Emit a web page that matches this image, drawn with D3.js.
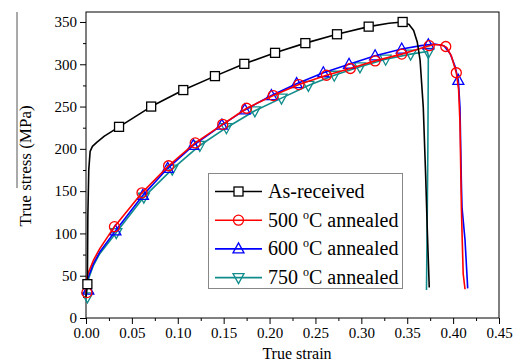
<!DOCTYPE html>
<html>
<head>
<meta charset="utf-8">
<script src="https://cdn.jsdelivr.net/npm/d3@7"></script>
<style>
  body { margin: 0; background: #fff; }
  svg text { font-family: "Liberation Serif", "Times New Roman", Times, "DejaVu Serif", serif !important; }
</style>
</head>
<body>
<svg id="chart" width="522" height="363"></svg>
<script>
// curves, [strain, stress]
const asReceived = [[0,25],[0.0015,40],[0.002,120],[0.003,175],[0.0045,197],[0.007,203],[0.012,208],[0.02,215],[0.036,226],
  [0.071,250],[0.106,269.5],[0.1405,286],[0.1725,300.5],[0.206,313.5],[0.239,325],[0.2735,335.5],[0.308,344.5],
  [0.330,348.5],[0.345,350],[0.352,347],[0.357,340],[0.361,326],[0.364,305],[0.3675,249],[0.370,171],[0.372,100],[0.374,36]]
const annealed500 = [[0,28],[0.0005,45],[0.002,52],[0.008,68],[0.015,82],[0.031,108],[0.061,148],[0.09,180],[0.119,207],
  [0.149,229],[0.175,248],[0.204,263],[0.232,276],[0.262,287],[0.288,295],[0.315,304],[0.344,312],[0.365,319],
  [0.378,323],[0.387,323],[0.393,320],[0.398,310],[0.4035,290],[0.406,270],[0.4075,230],[0.409,131],[0.410,90],
  [0.411,52],[0.413,34]]
const annealed600 = [[0,30],[0.001,45],[0.003,50],[0.008,64],[0.015,78],[0.032,103],[0.062,145],[0.089,177],[0.117,204],
  [0.148,228],[0.173,246],[0.202,263],[0.2295,277],[0.2586,290],[0.2866,300],[0.315,310],[0.344,318],[0.365,322],
  [0.38,324],[0.39,322],[0.397,312],[0.402,298],[0.4057,281],[0.4075,249],[0.409,160],[0.4097,131],[0.413,92],[0.4159,35]]
const annealed750 = [[0,22],[0.001,40],[0.003,47],[0.008,62],[0.015,76],[0.033,101],[0.063,143],[0.094,176],[0.124,204],
  [0.153,225],[0.184,245],[0.213,260],[0.2423,275],[0.2705,287],[0.2985,297],[0.3265,306],[0.3537,312],[0.372,315],
  [0.373,310],[0.3725,200],[0.371,33]]

// marker positions
const asReceivedMarks = [[0.0015,40],[0.036,226],[0.071,250],[0.106,269.5],[0.1405,286],[0.1725,300.5],[0.206,313.5],
  [0.239,325],[0.2735,335.5],[0.308,344.5],[0.345,350]]
const marks500 = [[0.001,30],[0.031,108],[0.061,148],[0.09,180],[0.119,207],[0.149,229],[0.175,248],[0.204,263],[0.232,276],
  [0.262,287],[0.288,295],[0.315,304],[0.344,312],[0.374,322],[0.392,321],[0.4035,290]]
const marks600 = [[0.0025,33],[0.032,103],[0.062,145],[0.089,177],[0.117,204],[0.148,228],[0.173,246],[0.202,263],
  [0.2295,277],[0.2586,290],[0.2866,300],[0.315,310],[0.344,318],[0.373,323],[0.4057,281]]
const marks750 = [[0.0015,25],[0.033,101],[0.063,143],[0.094,176],[0.124,204],[0.153,225],[0.184,245],[0.213,260],
  [0.2423,275],[0.2705,287],[0.2985,297],[0.3265,306],[0.3537,312],[0.373,314]]

const seriesNames = ['As-received', '500', '600', '750']
const xTicks = [0, 0.05, 0.1, 0.15, 0.2, 0.25, 0.3, 0.35, 0.4, 0.45]
const yTicks = [0, 50, 100, 150, 200, 250, 300, 350]

const series = [
  {name: seriesNames[0], line: asReceived, marks: asReceivedMarks, color: '#000000', symbol: 'square'},
  {name: seriesNames[1], line: annealed500, marks: marks500, color: '#ff0000', symbol: 'circle'},
  {name: seriesNames[2], line: annealed600, marks: marks600, color: '#0000ff', symbol: 'up'},
  {name: seriesNames[3], line: annealed750, marks: marks750, color: '#108c8c', symbol: 'down'},
]

const margin = {left: 86, right: 23, top: 12, bottom: 45}
const width = 522, height = 363
const svg = d3.select('#chart')

const x = d3.scaleLinear().domain([0, 0.45]).range([margin.left, width - margin.right])
const y = d3.scaleLinear().domain([0, 361.8]).range([height - margin.bottom, margin.top])

// stray scan line at far left
svg.append('line').attr('x1', 17).attr('x2', 17).attr('y1', 12).attr('y2', 188)
  .attr('stroke', '#555').attr('stroke-width', 1)

// frame
svg.append('rect')
  .attr('x', x(0)).attr('y', y.range()[1])
  .attr('width', x(0.45) - x(0)).attr('height', y(0) - y.range()[1])
  .attr('fill', 'none').attr('stroke', '#000').attr('stroke-width', 1)

// axes
const xAxis = d3.axisBottom(x).tickValues(xTicks).tickFormat(d3.format('.2f')).tickSize(6).tickPadding(3)
const xMinor = d3.axisBottom(x).tickValues(xTicks.slice(0, -1).map((d) => d + 0.025)).tickFormat('').tickSize(3)
const yAxis = d3.axisLeft(y).tickValues(yTicks).tickSize(6).tickPadding(3)
const yMinor = d3.axisLeft(y).tickValues(yTicks.map((d) => d + 25).filter((d) => d < 361)).tickFormat('').tickSize(3)

const gx = svg.append('g').attr('transform', `translate(0,${y(0)})`).call(xAxis)
svg.append('g').attr('transform', `translate(0,${y(0)})`).call(xMinor)
const gy = svg.append('g').attr('transform', `translate(${x(0)},0)`).call(yAxis)
svg.append('g').attr('transform', `translate(${x(0)},0)`).call(yMinor)

svg.selectAll('.domain').remove()
svg.selectAll('.tick line').attr('stroke', '#000')
gx.selectAll('text').attr('font-size', 15).attr('fill', '#000')
gy.selectAll('text').attr('font-size', 15).attr('fill', '#000')

svg.append('text').attr('x', 297).attr('y', 359)
  .attr('text-anchor', 'middle').attr('font-size', 16).text('True strain')
svg.append('text').attr('transform', `translate(31,166) rotate(-90)`)
  .attr('text-anchor', 'middle').attr('font-size', 17).text('True stress (MPa)')

const line = d3.line().x((d) => x(d[0])).y((d) => y(d[1]))

const drawMarker = (g, symbol, color, cx, cy) => {
  if(symbol === 'square') {
    g.append('rect').attr('x', cx - 4.5).attr('y', cy - 4.5).attr('width', 9).attr('height', 9)
      .attr('fill', '#fff').attr('stroke', color).attr('stroke-width', 1.3)
  } else if(symbol === 'circle') {
    g.append('circle').attr('cx', cx).attr('cy', cy).attr('r', 5)
      .attr('fill', 'none').attr('stroke', color).attr('stroke-width', 1.3)
  } else {
    const s = symbol === 'up' ? -1 : 1
    const pts = [[cx - 5.5, cy - s * 4], [cx + 5.5, cy - s * 4], [cx, cy + s * 6]]
    g.append('path').attr('d', 'M' + pts.join('L') + 'Z')
      .attr('fill', 'none').attr('stroke', color).attr('stroke-width', 1.3)
  }
}

// draw in reverse so black is drawn last
const plot = svg.append('g')
series.slice().reverse().forEach((s) => {
  plot.append('path').datum(s.line).attr('d', line)
    .attr('fill', 'none').attr('stroke', s.color).attr('stroke-width', 1.6).attr('stroke-linejoin', 'round')
  const mg = plot.append('g')
  s.marks.forEach((m) => drawMarker(mg, s.symbol, s.color, x(m[0]), y(m[1])))
})

// legend
const lg = svg.append('g')
lg.append('rect').attr('x', 208.5).attr('y', 173.5).attr('width', 194).attr('height', 115)
  .attr('fill', '#fff').attr('stroke', '#888').attr('stroke-width', 1)
series.forEach((s, i) => {
  const ly = 191.5 + i * 28.7
  lg.append('line').attr('x1', 215).attr('x2', 262).attr('y1', ly).attr('y2', ly)
    .attr('stroke', s.color).attr('stroke-width', 1.6)
  drawMarker(lg, s.symbol, s.color, 238.5, ly)
  const t = lg.append('text').attr('x', 268).attr('y', ly + 6.5).attr('font-size', 20).attr('fill', '#000')
  if(i === 0) {
    t.text(s.name)
  } else {
    t.append('tspan').text(s.name + ' ')
    t.append('tspan').attr('font-size', 12).attr('dy', -8).text('o')
    t.append('tspan').attr('dy', 8).text('C annealed')
  }
})
</script>
</body>
</html>
